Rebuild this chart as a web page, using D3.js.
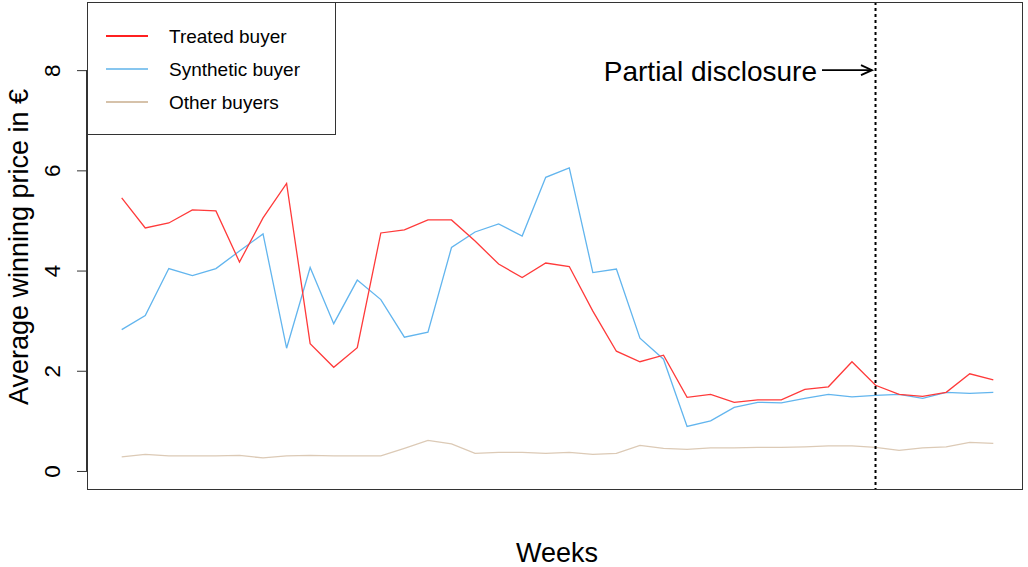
<!DOCTYPE html>
<html><head><meta charset="utf-8">
<script src="https://cdn.jsdelivr.net/npm/d3@7"></script>
<style>body{margin:0;background:#fff}svg{display:block}text{font-family:"Liberation Sans",Arial,sans-serif}</style>
</head><body><svg id="c" width="1028" height="567"></svg>
<script>
const weeks = d3.range(1, 39);
const treated = [5.45,4.85,4.95,5.21,5.19,4.17,5.05,5.74,2.54,2.07,2.46,4.75,4.81,5.01,5.01,4.59,4.13,3.86,4.15,4.08,3.19,2.39,2.18,2.31,1.47,1.53,1.37,1.42,1.42,1.63,1.68,2.18,1.71,1.53,1.49,1.57,1.94,1.82];
const synthetic = [2.82,3.10,4.04,3.90,4.04,4.39,4.73,2.45,4.06,2.94,3.81,3.42,2.67,2.77,4.46,4.77,4.93,4.69,5.86,6.05,3.96,4.03,2.65,2.23,0.89,1.00,1.27,1.37,1.36,1.45,1.53,1.48,1.51,1.53,1.45,1.57,1.55,1.57];
const others = [0.28,0.33,0.30,0.30,0.30,0.31,0.26,0.30,0.31,0.30,0.30,0.30,0.45,0.61,0.54,0.35,0.37,0.37,0.35,0.37,0.33,0.35,0.51,0.45,0.43,0.46,0.46,0.47,0.47,0.48,0.50,0.50,0.47,0.41,0.46,0.48,0.57,0.55];
const yTicks = [0,2,4,6,8];
const seriesNames = ["Treated buyer","Synthetic buyer","Other buyers"];
const disclosureWeek = 33;

const L=87,R=1022,T=2,B=489;
const svg=d3.select("#c");
const x=d3.scaleLinear().domain([1-1.473,38+1.218]).range([L,R]);
const y=d3.scaleLinear().domain([-0.36,9.36]).range([B,T]);

const series=[
 {name:seriesNames[0],vals:treated,color:"#ff3a3a",leg:"#ff2020"},
 {name:seriesNames[1],vals:synthetic,color:"#62b5ee",leg:"#87c6ef"},
 {name:seriesNames[2],vals:others,color:"#dccab6",leg:"#d6c2aa"}
];
const line=d3.line().x((d,i)=>x(weeks[i])).y(d=>y(d));
series.slice().reverse().forEach(s=>{
  svg.append("path").attr("d",line(s.vals)).attr("fill","none").attr("stroke",s.color).attr("stroke-width",1.3);
});

// dashed disclosure line
svg.append("line").attr("x1",x(disclosureWeek)).attr("x2",x(disclosureWeek)).attr("y1",T).attr("y2",B)
  .attr("stroke","#000").attr("stroke-width",2).attr("stroke-dasharray","3,3");

// box
svg.append("rect").attr("x",L+0.5).attr("y",T+0.5).attr("width",R-L).attr("height",B-T).attr("fill","none").attr("stroke","#333").attr("stroke-width",1);

// y axis
const ya=svg.append("g").attr("transform",`translate(${L},0)`)
  .call(d3.axisLeft(y).tickValues(yTicks).tickSize(10).tickPadding(0).tickFormat(d3.format("d")));
ya.select(".domain").attr("d",`M-0.5,${y(0)}V${y(8)}`).attr("stroke","#333");
ya.selectAll(".tick line").attr("stroke","#333");
ya.selectAll(".tick text").attr("transform","rotate(-90)").attr("x",0).attr("y",-27).attr("dy","0")
  .attr("text-anchor","middle").attr("font-size",22.5).attr("fill","#000").attr("font-family","Liberation Sans, Arial, sans-serif");

svg.append("text").attr("transform",`translate(28,247) rotate(-90)`).attr("text-anchor","middle")
  .attr("font-size",27).text("Average winning price in €");
svg.append("text").attr("x",557).attr("y",562).attr("text-anchor","middle").attr("font-size",27).text("Weeks");

// annotation
svg.append("text").attr("x",817).attr("y",81).attr("text-anchor","end").attr("font-size",28).text("Partial disclosure");
const ay=y(8);
svg.append("line").attr("x1",822).attr("x2",872).attr("y1",ay).attr("y2",ay).attr("stroke","#000").attr("stroke-width",1.8);
svg.append("path").attr("d",`M861,${ay-5}L872,${ay}L861,${ay+5}`).attr("fill","none").attr("stroke","#000").attr("stroke-width",1.8);

// legend
const lg=svg.append("g");
lg.append("rect").attr("x",L+0.5).attr("y",T+0.5).attr("width",248).attr("height",132).attr("fill","#fff").attr("stroke","#333");
series.forEach((s,i)=>{
  const yy=36+i*33;
  lg.append("line").attr("x1",106).attr("x2",148).attr("y1",yy).attr("y2",yy).attr("stroke",s.leg).attr("stroke-width",2);
  lg.append("text").attr("x",169).attr("y",yy+7).attr("font-size",19).text(s.name);
});
</script></body></html>
